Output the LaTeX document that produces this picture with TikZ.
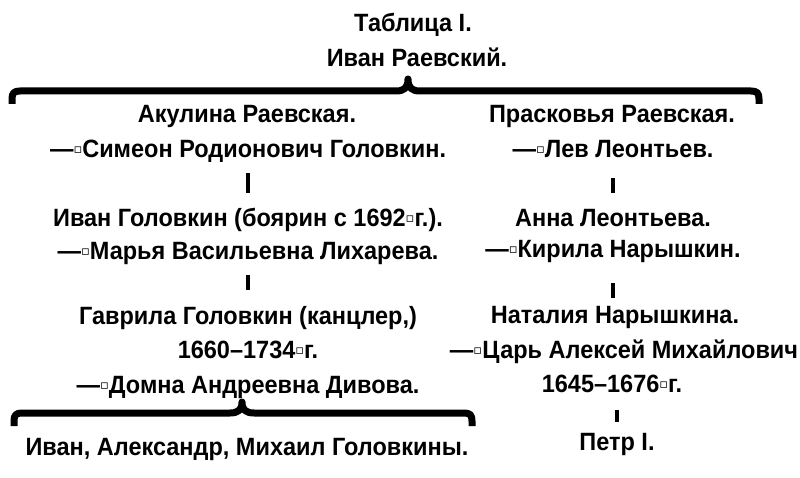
\documentclass[tikz,border=0pt]{standalone}
\usepackage{fontspec}
\setmainfont{Liberation Sans}[FakeStretch=0.94]
\newfontfamily\boxfont{DejaVu Sans}
\newcommand{\nb}{\raisebox{4pt}{\boxfont\fontsize{13}{13}\selectfont ▫}}
\tikzset{
  person/.style={inner sep=0pt, anchor=base, text height=17pt, text depth=5pt,
    font=\bfseries\fontsize{25}{30}\selectfont},
  brace/.style={line width=7pt, line join=round},
  link/.style={line width=3.5pt},
}
\begin{document}
\begin{tikzpicture}[x=1pt,y=-1pt]
\useasboundingbox (0,0) rectangle (800,478);
% head of the table
\node[person] (title) at (413,32) {Таблица I.};
\node[person] (root) at (417,67) {Иван Раевский.};
\draw[brace] (12,104) -- (12,99) .. controls (12,93) and (14,91) .. (20,91) -- (396,91)
  .. controls (404,91) and (408,88) .. (408,79) .. controls (408,88) and (412,91) .. (420,91)
  -- (751,91) .. controls (757,91) and (759,93) .. (759,99) -- (759,104);
% left branch
\node[person] (akulina) at (247,123) {Акулина Раевская.};
\node[person] (simeon) at (248,158) {—\nb Симеон Родионович Головкин.};
\node[person] (ivan) at (248,227) {Иван Головкин (боярин с 1692\nb г.).};
\node[person] (marya) at (248,259) {—\nb Марья Васильевна Лихарева.};
\node[person] (gavrila) at (248,324) {Гаврила Головкин (канцлер,)};
\node[person] (gavyears) at (248,358) {1660–1734\nb г.};
\node[person] (domna) at (248,393) {—\nb Домна Андреевна Дивова.};
\draw[brace] (14,426) -- (14,421) .. controls (14,415) and (16,413) .. (22,413) -- (230,413)
  .. controls (238,413) and (242,410) .. (242,402) .. controls (242,410) and (246,413) .. (254,413)
  -- (464,413) .. controls (470,413) and (472,415) .. (472,421) -- (472,426);
\node[person] (sons) at (247,455) {Иван, Александр, Михаил Головкины.};
\draw[link, shorten <=10pt, shorten >=17pt] (simeon.south) -- (simeon.south |- ivan.north);
\draw[link, shorten <=11pt, shorten >=17pt] (marya.south) -- (marya.south |- gavrila.north);
% right branch
\node[person] (praskovya) at (612,123) {Прасковья Раевская.};
\node[person] (lev) at (613,158) {—\nb Лев Леонтьев.};
\node[person] (anna) at (613,227) {Анна Леонтьева.};
\node[person] (kirila) at (613,258) {—\nb Кирила Нарышкин.};
\node[person] (natalya) at (615,323) {Наталия Нарышкина.};
\node[person] (tsar) at (624,358) {—\nb Царь Алексей Михайлович};
\node[person] (tsaryears) at (612,392) {1645–1676\nb г.};
\node[person] (petr) at (617,450) {Петр I.};
\draw[link, shorten <=15pt, shorten >=17pt] (lev.south) -- (lev.south |- anna.north);
\draw[link, shorten <=20pt, shorten >=8pt] (kirila.south) -- (kirila.south |- natalya.north);
\draw[link, shorten <=13pt, shorten >=11pt] (petr.north |- tsaryears.south) -- (petr.north);
\end{tikzpicture}
\end{document}
